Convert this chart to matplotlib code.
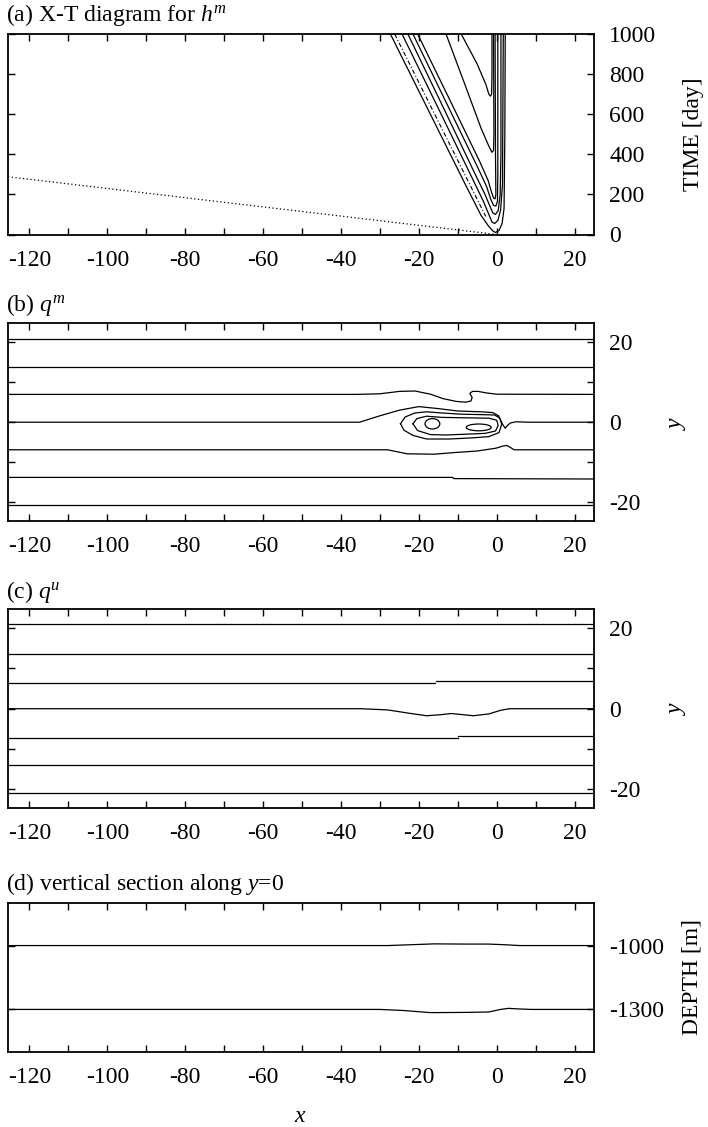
import matplotlib
matplotlib.use("Agg")
import matplotlib.pyplot as plt
from matplotlib.patches import Ellipse

plt.rcParams["font.family"] = ["Liberation Serif", "DejaVu Serif"]
plt.rcParams["mathtext.fontset"] = "custom"
plt.rcParams["mathtext.rm"] = "Liberation Serif"
plt.rcParams["mathtext.it"] = "Liberation Serif:italic"
plt.rcParams["font.size"] = 17

W, H = 708, 1127

# ---------------- axis set-up values ----------------
x_limits = (-125.5, 25.0)
x_ticks = list(range(-120, 21, 10))
x_ticklabels = [str(v) if v % 20 == 0 else "" for v in x_ticks]

t_limits = (0, 1000)
t_ticks = [0, 200, 400, 600, 800, 1000]

y_limits = (-24.7, 24.8)
y_ticks = [-20, -10, 0, 10, 20]
y_ticklabels = ["-20", "", "0", "", "20"]

depth_limits = (-1500, -800)
depth_ticks = [-1300, -1000]

# ---------------- (a) X-T diagram of h^m: contour lines (x, t) ----------------
hm_c1_x = [-27.3, -16.0, -8.0, -4.0, -2.2, -1.0, -0.3, 0.6, 1.4, 1.9, 2.1, 2.2]
hm_c1_t = [1000, 560, 248, 95, 45, 18, 10, 20, 55, 130, 500, 1000]
hm_c2_x = [-24.3, -14.0, -6.0, -3.4, -2.0, -1.2, -0.5, 0.3, 1.0, 1.5, 1.7]
hm_c2_t = [1000, 590, 270, 165, 100, 62, 55, 70, 120, 250, 1000]
hm_c3_x = [-22.8, -13.0, -5.5, -3.0, -1.7, -1.0, -0.3, 0.4, 0.9, 1.1, 1.1]
hm_c3_t = [1000, 605, 300, 200, 140, 108, 100, 120, 200, 400, 1000]
hm_c4_x = [-21.5, -12.0, -5.0, -2.6, -1.5, -0.8, -0.2, 0.2, 0.3, 0.3]
hm_c4_t = [1000, 620, 340, 240, 175, 145, 142, 165, 300, 1000]
hm_c5_x = [-20.3, -11.0, -4.5, -2.2, -1.3, -0.8, -0.4, -0.2, -0.3, -0.4]
hm_c5_t = [1000, 630, 370, 270, 210, 182, 178, 200, 400, 1000]
hm_c6_x = [-13.0, -8.0, -4.0, -2.0, -1.2, -0.8, -0.7, -0.8]
hm_c6_t = [1000, 740, 530, 440, 410, 420, 500, 1000]
hm_c7_x = [-9.1, -5.0, -2.8, -2.0, -1.6, -1.3, -1.2, -1.2]
hm_c7_t = [1000, 850, 750, 700, 690, 700, 800, 1000]
hm_dashdot_x = [-26.2, -2.8]
hm_dashdot_t = [1000, 90]
wave_char_x = [-125.5, 0.0]
wave_char_t = [288, 0]

# ---------------- (b) q^m contour lines (x, y) ----------------
qm_top2_x = [-125.5, 25.0]
qm_top2_y = [20.75, 20.75]
qm_top1_x = [-125.5, 25.0]
qm_top1_y = [13.9, 13.9]
qm_p7_x = [-125.5, -36.0, -30.0, -25.0, -21.0, -17.0, -13.8, -10.4, -8.0, -6.6,
           -6.3, -6.9, -6.2, -4.8, -2.5, 0.0, 25.0]
qm_p7_y = [6.95, 6.95, 7.1, 7.7, 7.8, 7.0, 5.9, 5.2, 5.0, 5.3,
           6.2, 7.2, 7.7, 7.7, 7.3, 7.0, 6.95]
qm_zero_x = [-125.5, -35.2, -30.0, -25.0, -20.0, -15.0, -10.0, -4.0, -1.0, 0.5,
             1.5, 2.2, 2.8, 3.5, 5.0, 8.0, 25.0]
qm_zero_y = [0.0, 0.0, 1.6, 3.0, 3.9, 3.4, 2.8, 2.6, 2.4, 1.6,
             -0.5, -1.5, -0.8, -0.2, 0.1, 0.0, 0.0]
qm_m7_x = [-125.5, -28.0, -26.0, -23.0, -16.0, -11.0, -5.0, -0.2, 1.5, 2.6,
           3.5, 4.5, 25.0]
qm_m7_y = [-6.9, -6.9, -7.3, -7.9, -8.0, -7.6, -7.2, -6.5, -6.0, -5.8,
           -6.3, -6.9, -6.9]
qm_m14_x = [-125.5, -11.3, -11.0, 25.0]
qm_m14_y = [-13.8, -13.8, -14.1, -14.2]
qm_m21_x = [-125.5, 25.0]
qm_m21_y = [-20.7, -20.7]
qm_outer_x = [-24.7, -23.5, -21.0, -18.0, -14.0, -9.0, -4.0, -0.5, 0.8, 1.3,
              0.6, -2.0, -6.0, -12.0, -18.0, -21.5, -23.8, -24.7]
qm_outer_y = [-0.4, 1.3, 2.3, 2.6, 2.3, 2.0, 1.9, 1.8, 1.0, -0.5,
              -2.6, -3.6, -3.9, -4.2, -4.2, -3.3, -2.0, -0.4]
qm_inner_x = [-21.5, -20.5, -18.0, -14.0, -8.0, -2.0, 0.0, 0.4, -0.3, -3.0,
              -8.0, -13.0, -17.0, -20.3, -21.5]
qm_inner_y = [-0.4, 0.9, 1.5, 1.2, 1.1, 1.0, 0.5, -0.8, -2.2, -2.8,
              -3.0, -3.2, -3.1, -2.1, -0.4]
# small closed cores: centre x, centre y, full width, full height
qm_core_x = [-16.5, -4.6]
qm_core_y = [-0.4, -1.3]
qm_core_w = [3.8, 6.4]
qm_core_h = [2.6, 1.7]

# ---------------- (c) q^u contour lines (x, y) ----------------
qu_top2_x = [-125.5, 25.0]
qu_top2_y = [21.0, 21.0]
qu_top1_x = [-125.5, 25.0]
qu_top1_y = [13.5, 13.5]
qu_p7a_x = [-125.5, -15.8]
qu_p7a_y = [6.5, 6.5]
qu_p7b_x = [-15.6, 25.0]
qu_p7b_y = [7.0, 7.0]
qu_zero_x = [-125.5, -35.0, -28.0, -22.0, -18.0, -14.5, -11.7, -8.5, -6.0, -2.0,
             1.0, 3.3, 25.0]
qu_zero_y = [0.0, 0.0, -0.3, -1.2, -1.75, -1.5, -1.2, -1.5, -1.75, -1.3,
             -0.4, 0.0, 0.0]
qu_m7a_x = [-125.5, -10.0]
qu_m7a_y = [-7.25, -7.25]
qu_m7b_x = [-9.8, 25.0]
qu_m7b_y = [-6.8, -6.8]
qu_m14_x = [-125.5, 25.0]
qu_m14_y = [-14.0, -14.0]
qu_m21_x = [-125.5, 25.0]
qu_m21_y = [-21.0, -21.0]

# ---------------- (d) vertical section along y=0 (x, depth) ----------------
sec_upper_x = [-125.5, -28.0, -22.0, -16.0, -8.0, -2.0, 2.0, 6.0, 25.0]
sec_upper_z = [-1000, -1000, -996, -992, -993, -993, -996, -1000, -1000]
sec_lower_x = [-125.5, -30.0, -24.0, -17.0, -8.0, -2.0, 1.0, 3.0, 6.0, 9.0, 25.0]
sec_lower_z = [-1300, -1300, -1305, -1315, -1314, -1312, -1300, -1295, -1298, -1300, -1300]


def px_axes(left, top, right, bottom):
    return [left / W, 1 - bottom / H, (right - left) / W, (bottom - top) / H]


fig = plt.figure(figsize=(W / 100, H / 100), dpi=100)

LINE = dict(color="black", lw=0.9)


def style_axes(ax, yticks, ylabels):
    ax.set_xlim(*x_limits)
    ax.set_xticks(x_ticks)
    ax.set_xticklabels(x_ticklabels)
    ax.set_yticks(yticks)
    ax.set_yticklabels(ylabels)
    ax.tick_params(direction="in", length=5, width=1.0, top=True, bottom=True,
                   left=True, right=True, labelleft=False, labelright=True,
                   labelsize=17)
    ax.tick_params(axis="x", pad=11)
    ax.tick_params(axis="y", pad=11)
    for lab in ax.get_yticklabels():
        lab.set_horizontalalignment("left")
    for s in ax.spines.values():
        s.set_linewidth(1.3)


# (a)
ax_a = fig.add_axes(px_axes(8, 34, 594, 234.5))
for xs, ts in [(hm_c1_x, hm_c1_t), (hm_c2_x, hm_c2_t), (hm_c3_x, hm_c3_t),
               (hm_c4_x, hm_c4_t), (hm_c5_x, hm_c5_t), (hm_c6_x, hm_c6_t),
               (hm_c7_x, hm_c7_t)]:
    ax_a.plot(xs, ts, **LINE)
ax_a.plot(hm_dashdot_x, hm_dashdot_t, color="black", lw=0.8, ls=(0, (4, 2, 1, 2)))
ax_a.plot(wave_char_x, wave_char_t, color="black", lw=0.9, ls=(0, (1, 2)))
ax_a.set_ylim(*t_limits)
style_axes(ax_a, t_ticks, [str(v) for v in t_ticks])

# (b)
ax_b = fig.add_axes(px_axes(8, 323, 594, 521))
for xs, ys in [(qm_top2_x, qm_top2_y), (qm_top1_x, qm_top1_y), (qm_p7_x, qm_p7_y),
               (qm_zero_x, qm_zero_y), (qm_m7_x, qm_m7_y), (qm_m14_x, qm_m14_y),
               (qm_m21_x, qm_m21_y), (qm_outer_x, qm_outer_y),
               (qm_inner_x, qm_inner_y)]:
    ax_b.plot(xs, ys, **LINE)
for cx, cy, w, h in zip(qm_core_x, qm_core_y, qm_core_w, qm_core_h):
    ax_b.add_patch(Ellipse((cx, cy), w, h, fill=False, ec="black", lw=0.9))
ax_b.set_ylim(*y_limits)
style_axes(ax_b, y_ticks, y_ticklabels)

# (c)
ax_c = fig.add_axes(px_axes(8, 609, 594, 808))
for xs, ys in [(qu_top2_x, qu_top2_y), (qu_top1_x, qu_top1_y), (qu_p7a_x, qu_p7a_y),
               (qu_p7b_x, qu_p7b_y), (qu_zero_x, qu_zero_y), (qu_m7a_x, qu_m7a_y),
               (qu_m7b_x, qu_m7b_y), (qu_m14_x, qu_m14_y), (qu_m21_x, qu_m21_y)]:
    ax_c.plot(xs, ys, **LINE)
ax_c.set_ylim(*y_limits)
style_axes(ax_c, y_ticks, y_ticklabels)

# (d)
ax_d = fig.add_axes(px_axes(8, 903, 594, 1052))
ax_d.plot(sec_upper_x, sec_upper_z, **LINE)
ax_d.plot(sec_lower_x, sec_lower_z, **LINE)
ax_d.set_ylim(*depth_limits)
style_axes(ax_d, depth_ticks, [str(v) for v in depth_ticks])

# panel titles
def ftext(x, y, s, **kw):
    fig.text(x / W, 1 - y / H, s, **kw)

ftext(6, 21, r"(a) X-T diagram for $h^m$", fontsize=17, va="baseline")
ftext(6, 311, r"(b) $q^m$", fontsize=17, va="baseline")
ftext(6, 598, r"(c) $q^u$", fontsize=17, va="baseline")
ftext(6, 890, r"(d) vertical section along $y$=0", fontsize=17, va="baseline")

# axis labels
ftext(693, 134, "TIME [day]", fontsize=17, rotation=90, ha="center", va="center")
ftext(678, 423, r"$y$", fontsize=17, rotation=90, ha="center", va="center")
ftext(678, 708, r"$y$", fontsize=17, rotation=90, ha="center", va="center")
ftext(692, 977, "DEPTH [m]", fontsize=17, rotation=90, ha="center", va="center")
ftext(300, 1116, r"$x$", fontsize=17, ha="center", va="center")

fig.savefig("out.png", dpi=100)
